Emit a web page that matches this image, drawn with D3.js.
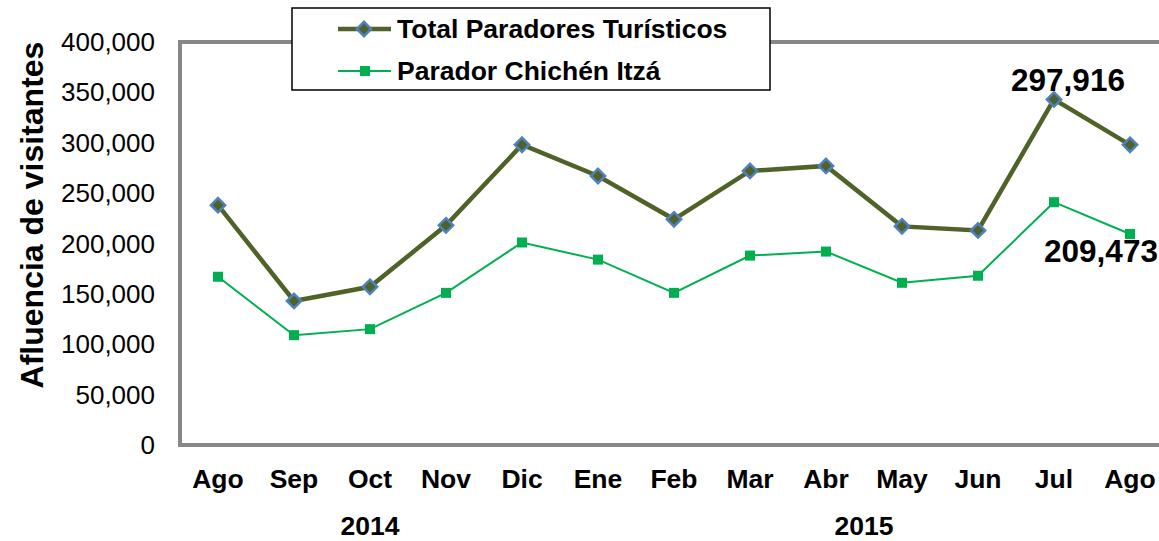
<!DOCTYPE html>
<html>
<head>
<meta charset="utf-8">
<script src="https://cdn.jsdelivr.net/npm/d3@7"></script>
<style>
body { margin: 0; background: #fff; }
text { font-family: Arial, "Liberation Sans", sans-serif; }
</style>
</head>
<body>
<svg id="s" width="1159" height="541"></svg>
<script>
var months = ["Ago", "Sep", "Oct", "Nov", "Dic", "Ene", "Feb", "Mar", "Abr", "May", "Jun", "Jul", "Ago"];
var total = [238000, 143000, 157000, 218000, 298000, 267000, 224000, 272000, 277000, 217000, 213000, 343000, 297916];
var chichen = [167000, 109000, 115000, 151000, 201000, 184000, 151000, 188000, 192000, 161000, 168000, 241000, 209473];
var yTicks = [0, 50000, 100000, 150000, 200000, 250000, 300000, 350000, 400000];
var years = [{label: "2014", from: 0, to: 4}, {label: "2015", from: 5, to: 12}];
var seriesNames = ["Total Paradores Turísticos", "Parador Chichén Itzá"];

var svg = d3.select("#s");
var plotLeft = 180, plotTop = 42, plotBottom = 445, bandW = 76;
var idx = d3.range(months.length);

var x = d3.scaleBand().domain(idx).range([plotLeft, plotLeft + bandW * months.length]);
var y = d3.scaleLinear().domain([0, 400000]).range([plotBottom, plotTop]);
var cx = function(i) { return x(i) + x.bandwidth() / 2; };
var fmt = d3.format(",");

// frame
svg.append("rect")
    .attr("x", plotLeft).attr("y", plotTop)
    .attr("width", x.range()[1] - plotLeft).attr("height", plotBottom - plotTop)
    .attr("fill", "none").attr("stroke", "#878787").attr("stroke-width", 4);

// y tick labels
svg.selectAll(".yt").data(yTicks).enter().append("text")
    .attr("x", 155).attr("y", function(d) { return y(d); })
    .attr("dy", "0.35em").attr("text-anchor", "end")
    .attr("font-size", 26).attr("fill", "#000")
    .text(function(d) { return fmt(d); });

// month labels
svg.selectAll(".xt").data(idx).enter().append("text")
    .attr("x", cx).attr("y", 488)
    .attr("text-anchor", "middle").attr("font-size", 26.5).attr("font-weight", "bold")
    .text(function(i) { return months[i]; });

// year labels
svg.selectAll(".yr").data(years).enter().append("text")
    .attr("x", function(d) { return (cx(d.from) + cx(d.to)) / 2; }).attr("y", 535)
    .attr("text-anchor", "middle").attr("font-size", 26.5).attr("font-weight", "bold")
    .text(function(d) { return d.label; });

// y axis title
svg.append("text")
    .attr("transform", "translate(43,215) rotate(-90)")
    .attr("text-anchor", "middle").attr("font-size", 32).attr("font-weight", "bold")
    .text("Afluencia de visitantes");

var line = d3.line().x(function(d, i) { return cx(i); }).y(function(d) { return y(d); });

// Chichen series
svg.append("path").datum(chichen).attr("d", line)
    .attr("fill", "none").attr("stroke", "#00b050").attr("stroke-width", 2);
svg.selectAll(".sq").data(chichen).enter().append("rect")
    .attr("x", function(d, i) { return cx(i) - 5; }).attr("y", function(d) { return y(d) - 5; })
    .attr("width", 10).attr("height", 10).attr("fill", "#00b050");

// Total series
var diamond = d3.symbol().type(d3.symbolDiamond2).size(130);
svg.append("path").datum(total).attr("d", line)
    .attr("fill", "none").attr("stroke", "#4f6228").attr("stroke-width", 4.5);
svg.selectAll(".dm").data(total).enter().append("path")
    .attr("d", diamond)
    .attr("transform", function(d, i) { return "translate(" + cx(i) + "," + y(d) + ")"; })
    .attr("fill", "#4f6228").attr("stroke", "#4f81bd").attr("stroke-width", 2.5);

// data labels
svg.append("text").attr("x", cx(11) + 14).attr("y", 91)
    .attr("text-anchor", "middle").attr("font-size", 31.5).attr("font-weight", "bold")
    .text(fmt(total[12]));
svg.append("text").attr("x", cx(12) - 29).attr("y", 262)
    .attr("text-anchor", "middle").attr("font-size", 31.5).attr("font-weight", "bold")
    .text(fmt(chichen[12]));

// legend
var lg = svg.append("g");
lg.append("rect").attr("x", 292).attr("y", 8).attr("width", 478).attr("height", 82)
    .attr("fill", "#fff").attr("stroke", "#000").attr("stroke-width", 1.5);
lg.append("line").attr("x1", 338).attr("x2", 391).attr("y1", 29).attr("y2", 29)
    .attr("stroke", "#4f6228").attr("stroke-width", 4.5);
lg.append("path").attr("d", diamond).attr("transform", "translate(364,29)")
    .attr("fill", "#4f6228").attr("stroke", "#4f81bd").attr("stroke-width", 2.5);
lg.append("line").attr("x1", 338).attr("x2", 391).attr("y1", 71).attr("y2", 71)
    .attr("stroke", "#00b050").attr("stroke-width", 2);
lg.append("rect").attr("x", 360).attr("y", 66).attr("width", 10).attr("height", 10)
    .attr("fill", "#00b050");
lg.selectAll(".lt").data(seriesNames).enter().append("text")
    .attr("x", 397).attr("y", function(d, i) { return 29 + i * 42; }).attr("dy", "0.35em")
    .attr("font-size", 26.5).attr("font-weight", "bold")
    .text(function(d) { return d; });
</script>
</body>
</html>
